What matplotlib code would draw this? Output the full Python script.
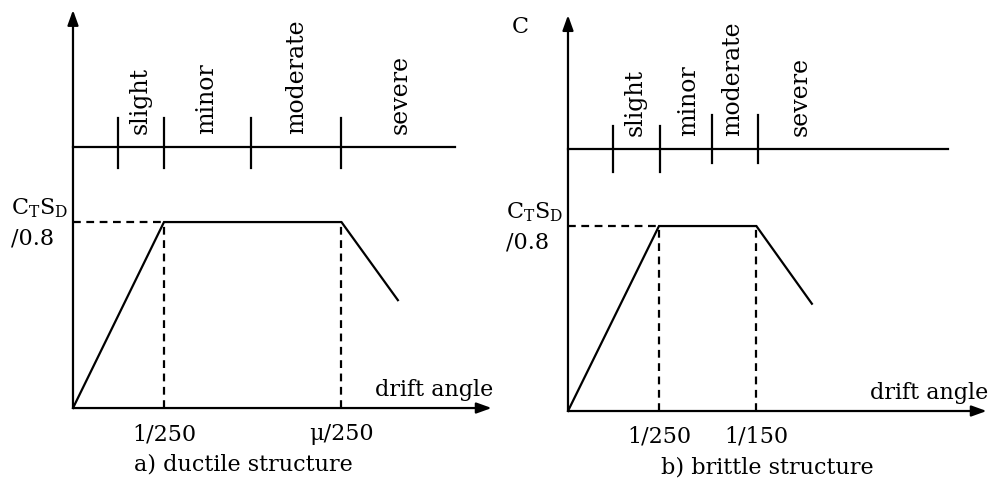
import matplotlib.pyplot as plt

plt.rcParams['font.family'] = 'DejaVu Serif'
plt.rcParams['mathtext.fontset'] = 'dejavuserif'

damage_states = ["slight", "minor", "moderate", "severe"]

# a) ductile structure (x: drift, 1.0 = 1/250 ; y: 1.0 = CtSd/0.8)
duct_x = [0, 1.0, 2.95, 3.57]
duct_y = [0, 1.0, 1.0, 0.58]
duct_bounds = [0.495, 1.0, 1.955, 2.945]
duct_label_x = [0.74, 1.47, 2.46, 3.59]
duct_ticks = ["1/250", "\u03bc/250"]

# b) brittle structure
brit_x = [0, 1.0, 2.07, 2.68]
brit_y = [0, 1.0, 1.0, 0.58]
brit_bounds = [0.495, 1.01, 1.58, 2.09]
brit_label_x = [0.74, 1.32, 1.81, 2.55]
brit_ticks = ["1/250", "1/150"]

fig = plt.figure(figsize=(9.92, 4.8), dpi=100)
ax1 = fig.add_axes([0, 0, 0.5, 1])
ax2 = fig.add_axes([0.5, 0, 0.5, 1])
ax1.set_xlim(-0.802, 4.648)
ax1.set_ylim(-0.387, 2.194)
ax2.set_xlim(-0.791, 4.659)
ax2.set_ylim(-0.373, 2.222)

fs = 16
lw = 1.6
arrow = dict(arrowstyle='-|>,head_length=0.5,head_width=0.18', lw=lw,
             color='k', mutation_scale=18, shrinkA=0, shrinkB=0)


def draw_panel(ax, cx, cy, bounds, label_x, ticks, caption, cap_x, tick_ext, scale_y, x_end):
    ax.set_axis_off()
    # axes with arrows
    ax.annotate('', xy=(4.6, 0), xytext=(0, 0), arrowprops=arrow)
    ax.annotate('', xy=(0, 2.14), xytext=(0, 0), arrowprops=arrow)
    ax.text(4.62, 0.04, "drift angle", ha='right', va='bottom', fontsize=fs)

    # capacity curve
    ax.plot(cx, cy, color='k', lw=lw, solid_joinstyle='miter')
    ax.plot([0, cx[1]], [cy[1], cy[1]], color='k', lw=lw, dashes=(3.5, 2.5))
    ax.plot([cx[1], cx[1]], [0, cy[1]], color='k', lw=lw, dashes=(3.5, 2.5))
    ax.plot([cx[2], cx[2]], [0, cy[2]], color='k', lw=lw, dashes=(3.5, 2.5))
    ax.text(-0.68, cy[1] + 0.075, r"C$_\mathrm{T}$S$_\mathrm{D}$", ha='left', va='center', fontsize=fs)
    ax.text(-0.68, cy[1] - 0.09, "/0.8", ha='left', va='center', fontsize=fs)

    # drift tick labels
    ax.text(cx[1], -0.14, ticks[0], ha='center', va='center', fontsize=fs)
    ax.text(cx[2], -0.14, ticks[1], ha='center', va='center', fontsize=fs)

    # damage scale
    ax.plot([0, x_end], [scale_y, scale_y], color='k', lw=lw)
    for b, (lo, hi) in zip(bounds, tick_ext):
        ax.plot([b, b], [lo, hi], color='k', lw=lw)
    for lx, name in zip(label_x, damage_states):
        ax.text(lx, scale_y + 0.07, name, rotation=90, ha='center', va='bottom', fontsize=17)

    ax.text(cap_x, -0.305, caption, ha='center', va='center', fontsize=fs)


draw_panel(ax1, duct_x, duct_y, duct_bounds, duct_label_x, duct_ticks,
           "a) ductile structure", 1.87, [(1.29, 1.56)] * 4, 1.403, 4.2)
draw_panel(ax2, brit_x, brit_y, brit_bounds, brit_label_x, brit_ticks,
           "b) brittle structure", 2.19, [(1.29, 1.54)] * 2 + [(1.34, 1.6)] * 2, 1.416, 4.18)
ax2.text(-0.53, 2.076, "C", ha='center', va='center', fontsize=fs)

fig.savefig("out.png", dpi=100)
